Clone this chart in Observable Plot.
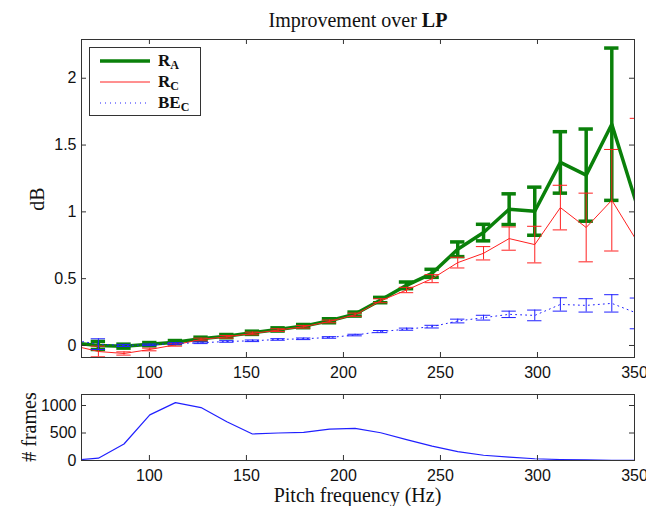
<!DOCTYPE html>
<html><head><meta charset="utf-8">
<script src="https://cdn.jsdelivr.net/npm/d3@7"></script>
<script src="https://cdn.jsdelivr.net/npm/@observablehq/plot@0.6"></script>
<style>body{margin:0;background:#fff;} #chart svg{display:block;}</style>
</head><body><div id="chart"></div>
<script>
// Pitch bin centres (Hz); first and last lie just outside the visible axis range
const pitch = [60.5, 73.7, 86.9, 100.2, 113.4, 126.6, 139.9, 153.1, 166.3, 179.5, 192.8, 206.0, 219.2, 232.5, 245.7, 258.9, 272.2, 285.4, 298.6, 311.8, 325.1, 338.3, 351.5];
// R_A improvement (dB) and error half-width
const rA    = [0.02, 0.0, -0.005, 0.01, 0.025, 0.05, 0.07, 0.095, 0.12, 0.145, 0.185, 0.235, 0.34, 0.45, 0.54, 0.72, 0.845, 1.02, 1.005, 1.37, 1.275, 1.656, 1.04];
const rAErr = [0.02, 0.03, 0.015, 0.012, 0.012, 0.012, 0.012, 0.012, 0.012, 0.012, 0.015, 0.015, 0.02, 0.025, 0.03, 0.055, 0.062, 0.115, 0.18, 0.23, 0.345, 0.57, 1.35];
// R_C
const rC    = [0.0, -0.045, -0.06, -0.03, 0.005, 0.045, 0.065, 0.09, 0.115, 0.14, 0.18, 0.23, 0.335, 0.415, 0.50, 0.62, 0.69, 0.80, 0.755, 1.032, 0.883, 1.087, 0.775];
const rCErr = [0.03, 0.04, 0.012, 0.01, 0.01, 0.01, 0.01, 0.01, 0.01, 0.01, 0.01, 0.012, 0.015, 0.02, 0.03, 0.04, 0.05, 0.087, 0.137, 0.167, 0.257, 0.38, 0.925];
// BE_C
const beC    = [0.04, 0.01, 0.0, 0.005, 0.015, 0.02, 0.03, 0.035, 0.045, 0.05, 0.06, 0.078, 0.104, 0.122, 0.141, 0.183, 0.208, 0.233, 0.225, 0.307, 0.30, 0.315, 0.24];
const beCErr = [0.03, 0.04, 0.008, 0.006, 0.006, 0.006, 0.006, 0.006, 0.006, 0.006, 0.006, 0.006, 0.008, 0.008, 0.01, 0.014, 0.018, 0.024, 0.04, 0.05, 0.05, 0.065, 0.115];
// number of frames per pitch bin
const frames = [5, 42, 300, 830, 1053, 962, 704, 482, 500, 511, 572, 583, 505, 380, 260, 160, 95, 62, 32, 18, 10, 5, 2];

const xTicks = [100, 150, 200, 250, 300, 350];
const xTickLabels = ["100", "150", "200", "250", "300", "350"];
const dbTicks = [0, 0.5, 1, 1.5, 2];
const dbTickLabels = ["0", "0.5", "1", "1.5", "2"];
const frameTicks = [0, 500, 1000];
const frameTickLabels = ["0", "500", "1000"];

const titleText = "Improvement over ";
const titleBold = "LP";
const yLabelTop = "dB";
const yLabelBottom = "# frames";
const xLabel = "Pitch frequency (Hz)";
const legendItems = [
  {main: "R", sub: "A", stroke: "#0a800a", width: 3.5, dash: null},
  {main: "R", sub: "C", stroke: "#ff2020", width: 1, dash: null},
  {main: "BE", sub: "C", stroke: "#2020ff", width: 1, dash: "1,4"}
];

const SANS = "'Liberation Sans', Arial, sans-serif";
const SERIF = "'Liberation Serif', 'Times New Roman', serif";
const xDomain = [65, 350];
const yDomain = [-0.09, 2.29];
const fDomain = [0, 1200];
const cap = 3.7;

const rows = (vals, errs) => pitch.map((x, i) => ({x, v: vals[i], lo: vals[i] - errs[i], hi: vals[i] + errs[i]}));

function errMarks(data, stroke, sw, dash) {
  return [
    Plot.line(data, {x: "x", y: "v", stroke, strokeWidth: sw, strokeDasharray: dash, clip: true}),
    Plot.ruleX(data, {x: "x", y1: "lo", y2: "hi", stroke, strokeWidth: sw, clip: true}),
    Plot.ruleY(data, {y: "lo", x1: d => d.x - cap, x2: d => d.x + cap, stroke, strokeWidth: sw, clip: true}),
    Plot.ruleY(data, {y: "hi", x1: d => d.x - cap, x2: d => d.x + cap, stroke, strokeWidth: sw, clip: true})
  ];
}

function frameTicksMarks(yT, yDom, pxPerY) {
  const dx = 5 / ((634 - 81) / (xDomain[1] - xDomain[0]));
  const dy = 5 / pxPerY;
  return [
    Plot.ruleY(yT, {y: d => d, x1: xDomain[0], x2: xDomain[0] + dx, stroke: "#333"}),
    Plot.ruleY(yT, {y: d => d, x1: xDomain[1] - dx, x2: xDomain[1], stroke: "#333"}),
    Plot.ruleX(xTicks, {x: d => d, y1: yDom[0], y2: yDom[0] + dy, stroke: "#333"}),
    Plot.ruleX(xTicks, {x: d => d, y1: yDom[1], y2: yDom[1] - dy, stroke: "#333"}),
    Plot.frame({stroke: "#333", strokeWidth: 1})
  ];
}

const topChart = Plot.plot({
  width: 646, height: 387,
  marginLeft: 81, marginRight: 12, marginTop: 39, marginBottom: 30,
  style: {background: "white", overflow: "visible", fontFamily: SANS},
  x: {domain: xDomain},
  y: {domain: yDomain},
  marks: [
    ...errMarks(rows(rA, rAErr), legendItems[0].stroke, 3.5, null),
    ...errMarks(rows(rC, rCErr), legendItems[1].stroke, 1, null),
    ...errMarks(rows(beC, beCErr), legendItems[2].stroke, 1, "1,4"),
    ...frameTicksMarks(dbTicks, yDomain, (357.5 - 39.3) / (yDomain[1] - yDomain[0])),
    Plot.axisX(xTicks, {tickSize: 0, tickPadding: 9, fontSize: 16, fontFamily: SANS, label: null, tickFormat: d => xTickLabels[xTicks.indexOf(d)], fill: "#111"}),
    Plot.axisY(dbTicks, {tickSize: 0, tickPadding: 5, fontSize: 16, fontFamily: SANS, label: null, tickFormat: d => dbTickLabels[dbTicks.indexOf(d)], fill: "#111"})
  ]
});

const bottomChart = Plot.plot({
  width: 646, height: 119,
  marginLeft: 81, marginRight: 12, marginTop: 7, marginBottom: 46,
  style: {background: "white", overflow: "visible", fontFamily: SANS},
  x: {domain: xDomain},
  y: {domain: fDomain},
  marks: [
    Plot.line(pitch.map((x, i) => ({x, f: frames[i]})), {x: "x", y: "f", stroke: "#2020ff", strokeWidth: 1.2, clip: true}),
    ...frameTicksMarks(frameTicks, fDomain, (460 - 394) / (fDomain[1] - fDomain[0])),
    Plot.axisX(xTicks, {tickSize: 0, tickPadding: 9, fontSize: 16, fontFamily: SANS, label: null, tickFormat: d => xTickLabels[xTicks.indexOf(d)], fill: "#111"}),
    Plot.axisY(frameTicks, {tickSize: 0, tickPadding: 5, fontSize: 16, fontFamily: SANS, label: null, tickFormat: d => frameTickLabels[frameTicks.indexOf(d)], fill: "#111"})
  ]
});

function label(svg, text, x, y, rot) {
  return d3.select(svg).append("text")
    .attr("transform", `translate(${x},${y}) rotate(${rot})`)
    .attr("text-anchor", "middle").attr("dominant-baseline", "central")
    .style("font-family", SERIF).style("font-size", "20px").attr("fill", "#111")
    .text(text);
}
label(topChart, yLabelTop, 37, 199, -90);
label(bottomChart, yLabelBottom, 29, 40, -90);
label(bottomChart, xLabel, 357.5, 108, 0);

const s = d3.select(topChart);
const t = s.append("text").attr("x", 358).attr("y", 27).attr("text-anchor", "middle")
  .style("font-family", SERIF).style("font-size", "20px").attr("fill", "#111");
t.append("tspan").text(titleText);
t.append("tspan").attr("font-weight", "bold").text(titleBold);

const lg = s.append("g");
lg.append("rect").attr("x", 89.5).attr("y", 47.5).attr("width", 111).attr("height", 68)
  .attr("fill", "white").attr("stroke", "#333");
legendItems.forEach((it, i) => {
  const cy = 61 + i * 21;
  lg.append("line").attr("x1", 100).attr("x2", 150).attr("y1", cy).attr("y2", cy)
    .attr("stroke", it.stroke).attr("stroke-width", it.width).attr("stroke-dasharray", it.dash);
  const tx = lg.append("text").attr("x", 158).attr("y", cy + 5).attr("text-anchor", "start")
    .style("font-family", SERIF).style("font-size", "17px").attr("font-weight", "bold").attr("fill", "#111");
  tx.append("tspan").text(it.main);
  tx.append("tspan").attr("dy", 3).style("font-size", "12px").text(it.sub);
});

document.getElementById("chart").append(topChart, bottomChart);
</script>
</body></html>
